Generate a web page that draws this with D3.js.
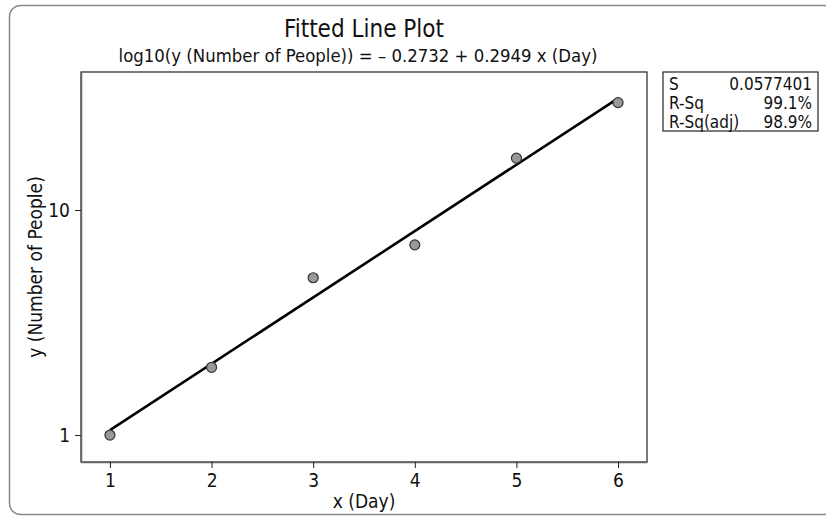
<!DOCTYPE html>
<html>
<head>
<meta charset="utf-8">
<script src="https://cdn.jsdelivr.net/npm/d3@7"></script>
<style>
  body { margin: 0; background: #fff; }
  text { font-family: "DejaVu Sans Condensed", "Liberation Sans Narrow", sans-serif; font-stretch: condensed; fill: #111; }
</style>
</head>
<body>
<div id="chart"></div>
<script>
// data
const days = [1, 2, 3, 4, 5, 6];
const people = [1, 2, 5, 7, 17, 30];
const fitIntercept = -0.2732;
const fitSlope = 0.2949;
const xTicks = [1, 2, 3, 4, 5, 6];
const yTicks = [1, 10];
const statLabels = ["S", "R-Sq", "R-Sq(adj)"];
const statValues = ["0.0577401", "99.1%", "98.9%"];

const width = 826, height = 517;
const margin = { top: 72, right: 179, bottom: 55, left: 81 };
const plotW = width - margin.left - margin.right;
const plotH = height - margin.top - margin.bottom;
const fontFam = "\"DejaVu Sans Condensed\", \"Liberation Sans Narrow\", sans-serif";

const svg = d3.select("#chart")
  .append("svg")
    .attr("width", width)
    .attr("height", height);

// outer rounded frame
svg.append("rect")
  .attr("x", 9.5).attr("y", 5.5)
  .attr("width", 840).attr("height", 509)
  .attr("rx", 11)
  .attr("fill", "none")
  .attr("stroke", "#8a8a8a")
  .attr("stroke-width", 1.5);

const g = svg.append("g")
  .attr("transform", `translate(${margin.left},${margin.top})`);

const x = d3.scaleLinear().domain([0.715, 6.285]).range([0, plotW]);
const y = d3.scaleLog().domain([0.759, 41.05]).range([plotH, 0]);

// plot frame
g.append("rect")
  .attr("width", plotW).attr("height", plotH)
  .attr("fill", "none")
  .attr("stroke", "#222")
  .attr("stroke-width", 1.2);

const xAxis = g.append("g")
  .attr("transform", `translate(0,${plotH})`)
  .call(d3.axisBottom(x).tickValues(xTicks).tickSize(6).tickSizeOuter(0).tickPadding(6).tickFormat(d3.format("d")));
const yAxis = g.append("g")
  .call(d3.axisLeft(y).tickValues(yTicks).tickSize(6).tickSizeOuter(0).tickPadding(5).tickFormat(d3.format("d")));

[xAxis, yAxis].forEach(a => {
  a.select(".domain").attr("stroke", "#666").attr("stroke-width", 1.5);
  a.selectAll(".tick line").attr("stroke", "#222");
  a.selectAll(".tick text")
    .attr("font-size", 19)
    .attr("font-family", fontFam)
    .attr("fill", "#111");
});

// fitted line from the equation
const fitData = [d3.min(days), d3.max(days)].map(d => ({ x: d, y: Math.pow(10, fitIntercept + fitSlope * d) }));
g.append("path")
  .datum(fitData)
  .attr("fill", "none")
  .attr("stroke", "#000")
  .attr("stroke-width", 2.6)
  .attr("d", d3.line().x(d => x(d.x)).y(d => y(d.y)));

g.selectAll(".pt")
  .data(days.map((d, i) => ({ x: d, y: people[i] })))
  .enter().append("circle")
    .attr("class", "pt")
    .attr("cx", d => x(d.x))
    .attr("cy", d => y(d.y))
    .attr("r", 5)
    .attr("fill", "#999")
    .attr("stroke", "#333")
    .attr("stroke-width", 1.2);

// titles
svg.append("text")
  .attr("x", 364).attr("y", 37)
  .attr("text-anchor", "middle")
  .attr("font-size", 24)
  .text("Fitted Line Plot");
svg.append("text")
  .attr("x", 358).attr("y", 62)
  .attr("text-anchor", "middle")
  .attr("font-size", 18.4)
  .text(`log10(y (Number of People)) = \u2013 ${Math.abs(fitIntercept).toFixed(4)} + ${fitSlope.toFixed(4)} x (Day)`);

svg.append("text")
  .attr("x", margin.left + x(3.5)).attr("y", 508)
  .attr("text-anchor", "middle")
  .attr("font-size", 19)
  .text("x (Day)");
svg.append("text")
  .attr("transform", `translate(42,${margin.top + plotH / 2}) rotate(-90)`)
  .attr("text-anchor", "middle")
  .attr("font-size", 19)
  .text("y (Number of People)");

// stats box
const box = svg.append("g").attr("transform", "translate(663,72)");
box.append("rect")
  .attr("width", 155).attr("height", 59)
  .attr("fill", "#fff")
  .attr("stroke", "#222")
  .attr("stroke-width", 1.2);
statLabels.forEach((s, i) => {
  box.append("text")
    .attr("x", 6).attr("y", 18 + i * 19)
    .attr("font-size", 17)
    .text(s);
  box.append("text")
    .attr("x", 149).attr("y", 18 + i * 19)
    .attr("text-anchor", "end")
    .attr("font-size", 17)
    .text(statValues[i]);
});
</script>
</body>
</html>
